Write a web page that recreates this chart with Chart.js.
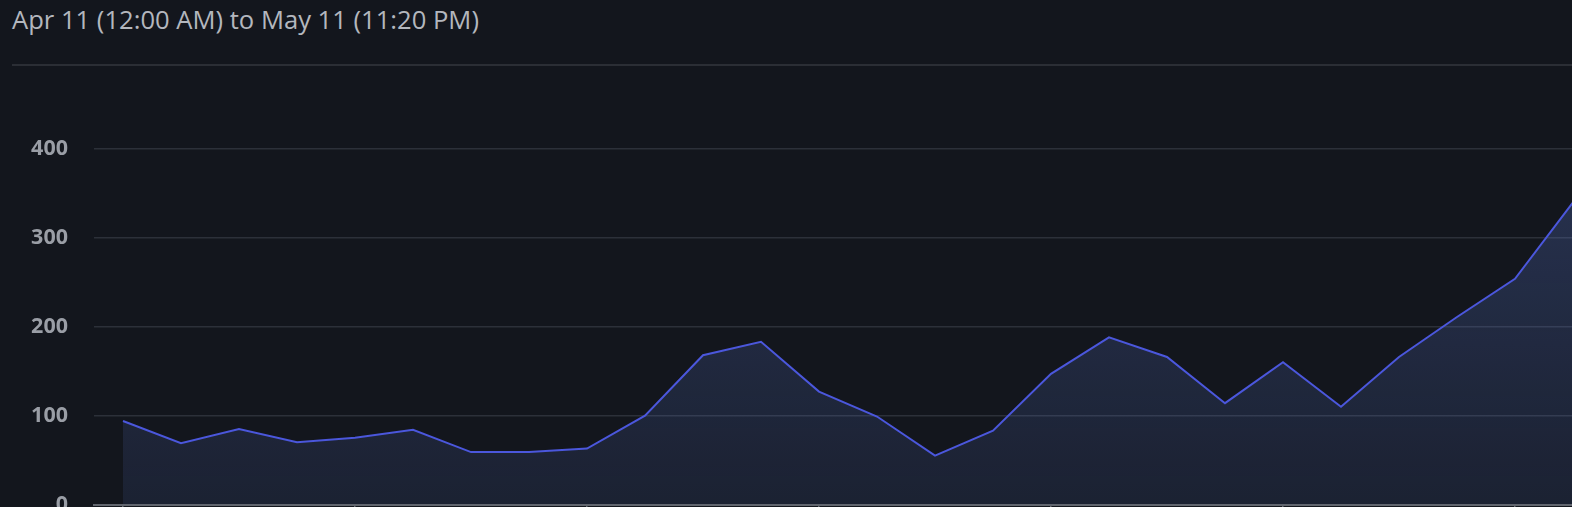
<!DOCTYPE html>
<html>
<head>
<meta charset="utf-8">
<script src="https://cdn.jsdelivr.net/npm/chart.js@4/dist/chart.umd.min.js"></script>
<style>
  html, body {
    margin: 0;
    padding: 0;
    width: 1572px;
    height: 507px;
    overflow: hidden;
    background: #13161d;
  }
  #titulo {
    position: absolute;
    left: 12px;
    top: 2px;
    font-family: "Open Sans", "Noto Sans", sans-serif;
    font-size: 25.6px;
    color: #b3b7be;
    white-space: nowrap;
  }
  #separador {
    position: absolute;
    left: 12px;
    top: 64px;
    width: 1560px;
    height: 2px;
    background: #2b2e35;
  }
  #contenedor {
    position: absolute;
    left: 0;
    top: 0;
    width: 1610px;
    height: 545px;
  }
</style>
</head>
<body>
<div id="titulo">Apr 11 (12:00 AM) to May 11 (11:20 PM)</div>
<div id="separador"></div>
<div id="contenedor"><canvas id="grafico" width="1610" height="545"></canvas></div>

<script>
/* ============================================================
   Datos
   ============================================================ */
const dias = [
    "Apr 11", "Apr 12", "Apr 13", "Apr 14", "Apr 15", "Apr 16", "Apr 17",
    "Apr 18", "Apr 19", "Apr 20", "Apr 21", "Apr 22", "Apr 23", "Apr 24",
    "Apr 25", "Apr 26", "Apr 27", "Apr 28", "Apr 29", "Apr 30", "May 1",
    "May 2", "May 3", "May 4", "May 5", "May 6"
];

const visitas = [
    94, 69, 85, 70, 75, 84, 59, 59, 63, 100, 168, 183, 127,
    99, 55, 83, 147, 188, 166, 114, 160, 110, 166, 211, 254, 340
];

const ticksY = [0, 100, 200, 300, 400];

/* ============================================================
   Gráfico
   ============================================================ */
const LINEA = "#4b57dc";

function rellenoGradiente(ctx) {
    const ca = ctx.chart.chartArea;
    if (!ca) return "rgba(90,120,200,0.18)";
    const g = ctx.chart.ctx.createLinearGradient(0, ca.top + 50, 0, ca.bottom);
    g.addColorStop(0, "rgba(90,120,205,0.27)");
    g.addColorStop(1, "rgba(90,120,205,0.12)");
    return g;
}

new Chart(document.getElementById("grafico"), {
    type: "line",
    data: {
        labels: dias,
        datasets: [{
            data: visitas,
            borderColor: LINEA,
            borderWidth: 2,
            backgroundColor: rellenoGradiente,
            fill: "origin",
            tension: 0,
            pointRadius: 0
        }]
    },
    options: {
        responsive: false,
        animation: false,
        layout: { padding: { top: 149, right: 8, left: 0, bottom: 0 } },
        plugins: {
            legend: { display: false },
            tooltip: { enabled: false }
        },
        scales: {
            x: {
                offset: true,
                afterBuildTicks: s => {
                    s.ticks = s.ticks.filter(t => t.value % 4 === 0);
                },
                afterFit: s => { s.height = 40.5; },
                grid: {
                    drawOnChartArea: false,
                    drawTicks: true,
                    tickLength: 6,
                    color: "#62666e",
                    lineWidth: 1.5,
                    offset: false
                },
                border: { color: "#62666e", width: 2 },
                ticks: {
                    autoSkip: false,
                    maxRotation: 0,
                    color: "#9a9ea6",
                    font: { family: "Open Sans", size: 18, weight: "bold" }
                }
            },
            y: {
                min: 0,
                max: 400,
                afterBuildTicks: s => {
                    s.ticks = ticksY.map(v => ({ value: v }));
                },
                afterFit: s => { s.width = 94; },
                grid: {
                    color: "#2c3039",
                    lineWidth: 1.5,
                    drawTicks: false
                },
                border: { display: false },
                ticks: {
                    padding: 26,
                    color: "#9a9ea6",
                    font: { family: "Open Sans", size: 21.5, weight: "bold" }
                }
            }
        }
    }
});
</script>
</body>
</html>
